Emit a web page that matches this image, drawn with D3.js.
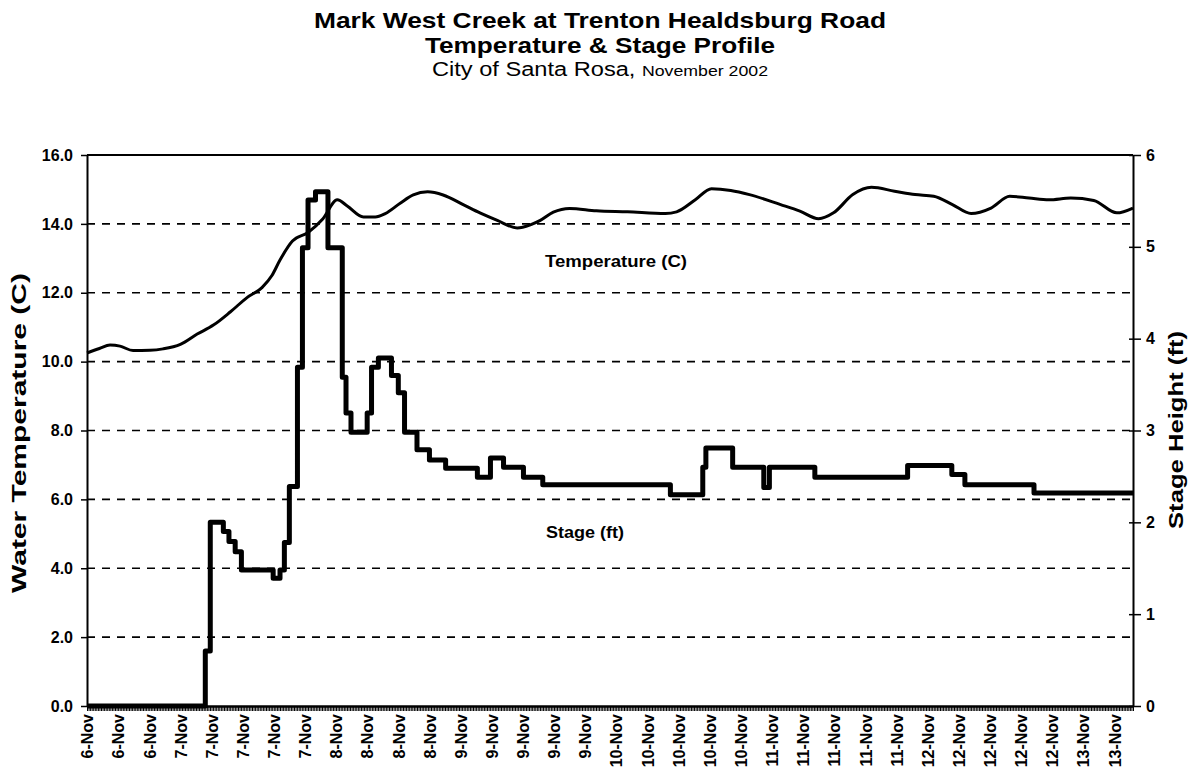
<!DOCTYPE html>
<html><head><meta charset="utf-8">
<script src="https://cdn.jsdelivr.net/npm/d3@7"></script>
<style>
body{margin:0;background:#fff;}
svg{display:block;font-family:"Liberation Sans",Arial,sans-serif;}
</style></head><body>
<svg id="chart" width="1189" height="780"></svg>
<script>
// ---- data ----
const xLabels = ["6-Nov","6-Nov","6-Nov","7-Nov","7-Nov","7-Nov","7-Nov","7-Nov","8-Nov","8-Nov","8-Nov","8-Nov",
  "9-Nov","9-Nov","9-Nov","9-Nov","9-Nov","10-Nov","10-Nov","10-Nov","10-Nov","10-Nov","11-Nov","11-Nov","11-Nov",
  "11-Nov","11-Nov","12-Nov","12-Nov","12-Nov","12-Nov","12-Nov","13-Nov","13-Nov"];
// hours since 6-Nov ~12:00 at which each category label sits
const labelHours = [0,5,10,15,20,25,30,35,40,45,50,55,60,65,70,75,80,85,90,95,100,105,110,115,120,125,130,135,140,145,150,155,160,165];
const tempTicks = [0,2,4,6,8,10,12,14,16];
const stageTicks = [0,1,2,3,4,5,6];

const tempHours = [0,2,3.7,5.3,7.4,10.1,12.2,15,17.7,20.3,23,25.7,28.1,29.7,31,33,35.5,37.9,40.2,41.8,44.4,46.3,47.9,50.3,52.4,54.7,57.2,60.5,63.2,65.9,69.1,71.2,72.8,74.9,77.5,81.8,86.8,92.9,94.7,97.7,100.3,103.4,106.4,111.4,114.5,117.5,119.9,123,126,129.7,133,136,139,142,145.2,148.2,151.3,154.5,158,161.7,165.4,168];
const tempValues = [10.25,10.38,10.48,10.45,10.32,10.33,10.37,10.5,10.8,11.06,11.44,11.86,12.15,12.5,12.95,13.5,13.75,14.15,14.7,14.52,14.2,14.2,14.3,14.6,14.84,14.93,14.84,14.55,14.31,14.1,13.88,13.97,14.1,14.34,14.45,14.38,14.35,14.3,14.35,14.7,15.02,14.97,14.85,14.56,14.37,14.15,14.32,14.85,15.06,14.95,14.85,14.8,14.56,14.3,14.46,14.8,14.75,14.7,14.75,14.68,14.32,14.46];

const stageHours = [0,19.0,19.8,21.9,22.8,23.8,24.8,29.9,31.0,31.7,32.5,33.8,34.6,35.5,36.7,38.7,41.0,41.6,42.4,45.0,45.7,46.8,48.9,50.0,51.0,53.0,55.0,57.6,62.7,64.8,66.9,70.1,73.2,93.7,98.9,99.4,103.7,108.7,109.6,116.9,131.8,138.9,141,152.1,168];
const stageValues = [0,0.6,2.0,1.9,1.79,1.68,1.48,1.39,1.48,1.78,2.39,3.69,4.99,5.51,5.6,4.99,3.58,3.19,2.98,3.19,3.69,3.79,3.6,3.41,2.98,2.79,2.68,2.59,2.49,2.7,2.6,2.49,2.41,2.3,2.6,2.81,2.6,2.38,2.6,2.49,2.62,2.52,2.41,2.32,2.32];

// ---- layout ----
const L = 87, R = 1133, T = 155, B = 706;
const FONT = "Liberation Sans, Arial, sans-serif";
const svg = d3.select("#chart");
const x = d3.scaleLinear().domain([0,168]).range([L,R]);
const yT = d3.scaleLinear().domain([0,16]).range([B,T]);
const yS = d3.scaleLinear().domain([0,6]).range([B,T]);

// gridlines
svg.append("g").selectAll("line").data(tempTicks.filter(d=>d>0 && d<16)).join("line")
  .attr("x1",L).attr("x2",R).attr("y1",d=>yT(d)).attr("y2",d=>yT(d))
  .attr("stroke","#000").attr("stroke-width",1.6).attr("stroke-dasharray","8,7");
// top border
svg.append("line").attr("x1",L).attr("x2",R).attr("y1",yT(16)).attr("y2",yT(16))
  .attr("stroke","#000").attr("stroke-width",2);

// dense category ticks along the bottom
const denseTicks = d3.range(0,168.001,0.25);
const gb = svg.append("g").attr("transform",`translate(0,${B})`)
  .call(d3.axisBottom(x).tickValues(denseTicks).tickFormat("").tickSizeInner(5).tickSizeOuter(0));
gb.selectAll("line").attr("stroke","#000").attr("stroke-width",1);
gb.select(".domain").attr("stroke","#000").attr("stroke-width",2.5);

// x labels
const gl = svg.append("g").attr("transform",`translate(0,${B})`)
  .call(d3.axisBottom(x).tickValues(labelHours).tickFormat((d,i)=>xLabels[i]).tickSize(0));
gl.select(".domain").remove();
gl.selectAll("text").attr("transform","rotate(-90)").attr("x",-8).attr("y",0).attr("dy","0.36em")
  .attr("text-anchor","end").attr("font-size",16).attr("font-weight","bold").attr("fill","#000")
  .attr("font-family",FONT);

// left axis
const gL = svg.append("g").attr("transform",`translate(${L},0)`)
  .call(d3.axisLeft(yT).tickValues(tempTicks).tickFormat(d=>d.toFixed(1)).tickSizeInner(6).tickSizeOuter(0).tickPadding(8));
gL.select(".domain").attr("stroke","#000").attr("stroke-width",2);
gL.selectAll("line").attr("stroke","#000").attr("stroke-width",1.5);
gL.selectAll("text").attr("font-size",16).attr("font-weight","bold").attr("fill","#000")
  .attr("font-family",FONT);

// right axis
const gR = svg.append("g").attr("transform",`translate(${R},0)`)
  .call(d3.axisRight(yS).tickValues(stageTicks).tickFormat(d3.format("d")).tickSizeInner(8).tickSizeOuter(0).tickPadding(5));
gR.select(".domain").attr("stroke","#000").attr("stroke-width",2);
gR.selectAll("line").attr("stroke","#000").attr("stroke-width",1.5).attr("x1",-4);
gR.selectAll("text").attr("font-size",16).attr("font-weight","bold").attr("fill","#000")
  .attr("font-family",FONT);

// series
const tempLine = d3.line().x((d,i)=>x(tempHours[i])).y(d=>yT(d)).curve(d3.curveMonotoneX);
svg.append("path").attr("d",tempLine(tempValues)).attr("fill","none").attr("stroke","#000")
  .attr("stroke-width",3).attr("stroke-linejoin","round");
const stageLine = d3.line().x((d,i)=>x(stageHours[i])).y(d=>yS(d)).curve(d3.curveStepAfter);
svg.append("path").attr("d",stageLine(stageValues)).attr("fill","none").attr("stroke","#000")
  .attr("stroke-width",5).attr("stroke-linejoin","round");

// series labels
svg.append("text").attr("x",545).attr("y",267).attr("font-size",17).attr("font-weight","bold")
  .attr("textLength",142).attr("lengthAdjust","spacingAndGlyphs").text("Temperature (C)");
svg.append("text").attr("x",546).attr("y",538).attr("font-size",17).attr("font-weight","bold")
  .attr("textLength",78).attr("lengthAdjust","spacingAndGlyphs").text("Stage (ft)");

// axis titles
svg.append("text").attr("transform",`translate(26,433) rotate(-90)`).attr("text-anchor","middle")
  .attr("font-size",21).attr("font-weight","bold")
  .attr("textLength",320).attr("lengthAdjust","spacingAndGlyphs").text("Water Temperature (C)");
svg.append("text").attr("transform",`translate(1183,430) rotate(-90)`).attr("text-anchor","middle")
  .attr("font-size",21).attr("font-weight","bold")
  .attr("textLength",198).attr("lengthAdjust","spacingAndGlyphs").text("Stage Height (ft)");

// titles
const cx = 600;
svg.append("text").attr("x",cx).attr("y",28).attr("text-anchor","middle").attr("font-size",22).attr("font-weight","bold")
  .attr("textLength",572).attr("lengthAdjust","spacingAndGlyphs")
  .text("Mark West Creek at Trenton Healdsburg Road");
svg.append("text").attr("x",cx).attr("y",53).attr("text-anchor","middle").attr("font-size",22).attr("font-weight","bold")
  .attr("textLength",350).attr("lengthAdjust","spacingAndGlyphs")
  .text("Temperature & Stage Profile");
const t3 = svg.append("text").attr("x",cx).attr("y",76).attr("text-anchor","middle")
  .attr("textLength",336).attr("lengthAdjust","spacingAndGlyphs");
t3.append("tspan").attr("font-size",20).text("City of Santa Rosa, ");
t3.append("tspan").attr("font-size",15).text("November 2002");
</script>
</body></html>
